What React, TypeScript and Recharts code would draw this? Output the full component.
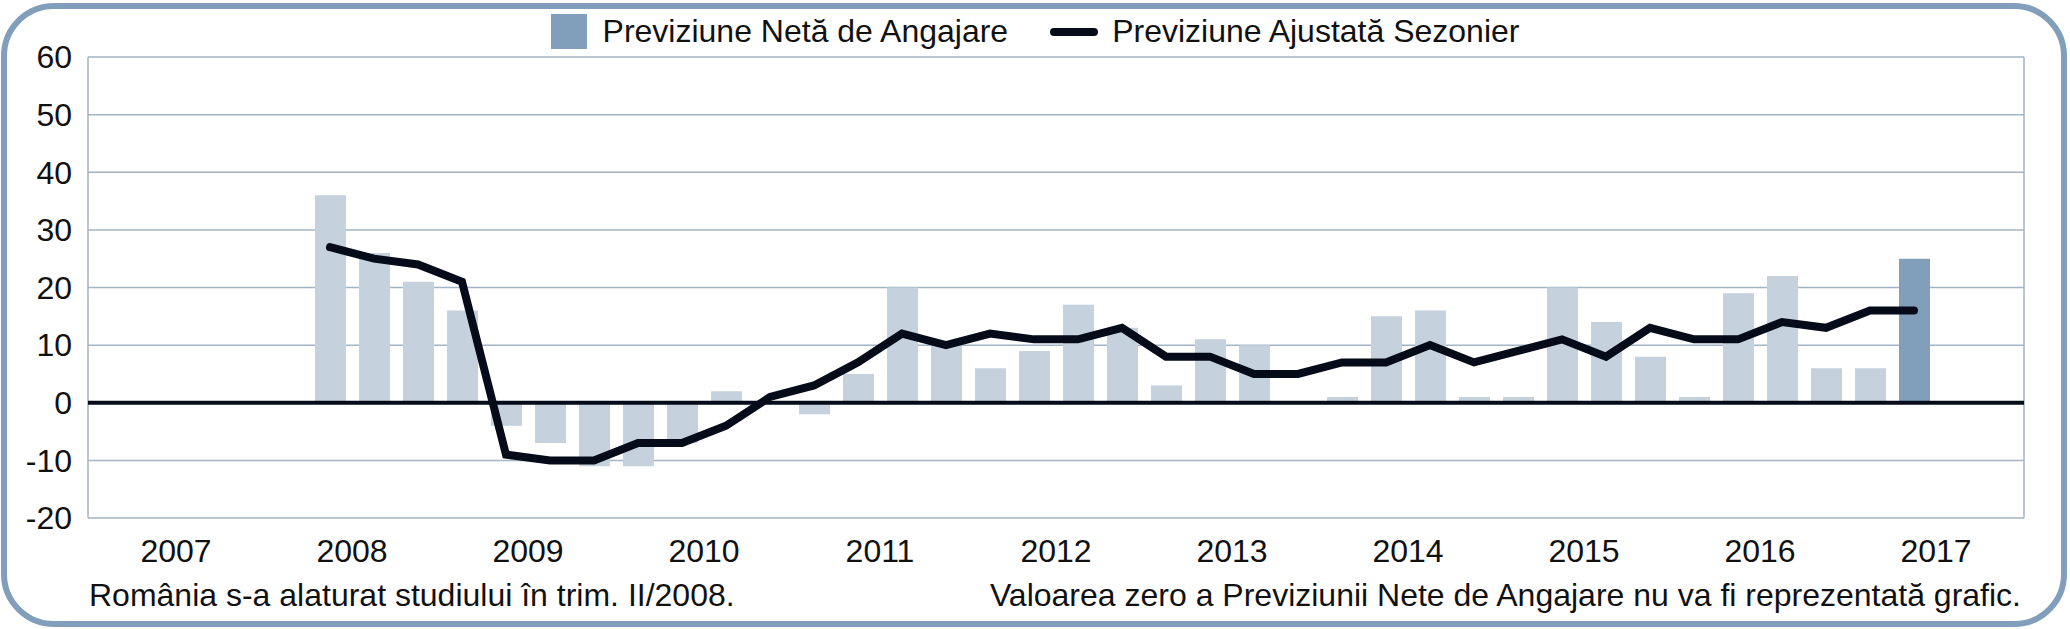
import {
  ComposedChart,
  Bar,
  Line,
  XAxis,
  YAxis,
  CartesianGrid,
  ReferenceLine,
  Legend,
  Cell,
} from 'recharts'

const years = ['2007', '2008', '2009', '2010', '2011', '2012', '2013', '2014', '2015', '2016', '2017']
const quarters = ['T1', 'T2', 'T3', 'T4']
const categories = years.flatMap((y) => quarters.map((q) => `${y} ${q}`))

// Previziune Neta de Angajare (bars); zero values are not drawn in the original
const netOutlook: (number | null)[] = [
  null, null, null, null,
  null, 36, 26, 21,
  16, -4, -7, -11,
  -11, -7, 2, 0,
  -2, 5, 20, 10,
  6, 9, 17, 13,
  3, 11, 10, 0,
  1, 15, 16, 1,
  1, 20, 14, 8,
  1, 19, 22, 6,
  6, 25, null, null,
]

// Previziune Ajustata Sezonier (line)
const seasonallyAdjusted: (number | null)[] = [
  null, null, null, null,
  null, 27, 25, 24,
  21, -9, -10, -10,
  -7, -7, -4, 1,
  3, 7, 12, 10,
  12, 11, 11, 13,
  8, 8, 5, 5,
  7, 7, 10, 7,
  9, 11, 8, 13,
  11, 11, 14, 13,
  16, 16, null, null,
]

const yTicks = [-20, -10, 0, 10, 20, 30, 40, 50, 60]
const currentQuarter = '2017 T2'

const barName = 'Previziune Netă de Angajare'
const lineName = 'Previziune Ajustată Sezonier'
const noteLeft = 'România s-a alaturat studiului în trim. II/2008.'
const noteRight = 'Valoarea zero a Previziunii Nete de Angajare nu va fi reprezentată grafic.'

const W = 2070
const H = 629
const FONT = '"Liberation Sans", Arial, Helvetica, sans-serif'
const TEXT = '#111111'
const GRID = '#a3b4c5'
const LIGHT_BAR = '#c5d1dd'
const DARK_BAR = '#819fbb'
const INK = '#060b1a'

const data = categories.map((q, i) => ({
  q,
  net: netOutlook[i],
  adj: seasonallyAdjusted[i],
}))

const yearBounds = [...years.map(Number), Number(years[years.length - 1]) + 1]

// year label sits on the boundary between the 2nd and 3rd quarter
function YearTick({ x, y, payload }: any) {
  const [year, q] = String(payload.value).split(' ')
  if (q !== 'T3') return null
  return (
    <text
      x={x - (payload.offset ?? 0)}
      y={y}
      dy="0.71em"
      textAnchor="middle"
      fontSize={32}
      fill={TEXT}
      fontFamily={FONT}
    >
      {year}
    </text>
  )
}

function LegendContent({ payload }: any) {
  const items = [...(payload ?? [])].sort(
    (a: any, b: any) => (a.type === 'line' ? 1 : 0) - (b.type === 'line' ? 1 : 0),
  )
  return (
    <div
      style={{
        display: 'flex',
        justifyContent: 'center',
        alignItems: 'center',
        height: 35,
        fontFamily: FONT,
        fontSize: 32,
        lineHeight: '35px',
        color: TEXT,
      }}
    >
      {items.map((e: any, i: number) => (
        <div key={i} style={{ display: 'flex', alignItems: 'center', marginLeft: i === 0 ? 0 : 42 }}>
          {e.type === 'line' ? (
            <span
              style={{
                display: 'inline-block',
                width: 48,
                height: 8,
                borderRadius: 4,
                background: INK,
                marginRight: 14,
              }}
            />
          ) : (
            <span
              style={{
                display: 'inline-block',
                width: 36,
                height: 35,
                background: DARK_BAR,
                marginRight: 16,
              }}
            />
          )}
          <span>{e.value}</span>
        </div>
      ))}
    </div>
  )
}

export default function App() {
  return (
    <div
      style={{
        position: 'absolute',
        left: 0,
        top: 0,
        width: W,
        height: H,
        background: '#fff',
        fontFamily: FONT,
      }}
    >
      <ComposedChart
        width={W}
        height={H}
        data={data}
        margin={{ top: 57, right: 46, bottom: 71, left: 0 }}
        barCategoryGap={0}
      >
        {/* year boundaries for the vertical grid */}
        <XAxis type="number" domain={[2007, 2018]} ticks={yearBounds} height={0} hide />
        <CartesianGrid stroke={GRID} strokeWidth={1.5} />
        <XAxis
          xAxisId="q"
          dataKey="q"
          interval={0}
          axisLine={false}
          tickLine={false}
          tickSize={0}
          tickMargin={21}
          height={40}
          tick={<YearTick />}
        />
        <YAxis
          domain={[-20, 60]}
          ticks={yTicks}
          interval={0}
          width={88}
          axisLine={false}
          tickLine={false}
          tickSize={0}
          tickMargin={16}
          tick={{ fontSize: 32, fill: TEXT }}
        />
        <Legend
          verticalAlign="middle"
          align="center"
          layout="horizontal"
          wrapperStyle={{ top: 14, left: 0, width: W, height: 35 }}
          content={<LegendContent />}
        />
        <Bar
          xAxisId="q"
          dataKey="net"
          name={barName}
          fill={DARK_BAR}
          barSize={31}
          legendType="square"
          isAnimationActive={false}
        >
          {data.map((d) => (
            <Cell key={d.q} fill={d.q === currentQuarter ? DARK_BAR : LIGHT_BAR} />
          ))}
        </Bar>
        <ReferenceLine xAxisId="q" y={0} stroke={INK} strokeWidth={4} />
        <Line
          xAxisId="q"
          dataKey="adj"
          name={lineName}
          type="linear"
          stroke={INK}
          strokeWidth={8}
          strokeLinecap="round"
          dot={false}
          activeDot={false}
          legendType="line"
          isAnimationActive={false}
        />
      </ComposedChart>
      <svg
        width={W}
        height={H}
        style={{ position: 'absolute', left: 0, top: 0, pointerEvents: 'none' }}
      >
        <rect x={4} y={6} width={2060} height={618} rx={50} ry={50} fill="none" stroke={DARK_BAR} strokeWidth={6} />
        <text x={89} y={606} fontSize={32} fill={TEXT} fontFamily={FONT}>
          {noteLeft}
        </text>
        <text x={2021} y={606} fontSize={32} fill={TEXT} fontFamily={FONT} textAnchor="end">
          {noteRight}
        </text>
      </svg>
    </div>
  )
}
